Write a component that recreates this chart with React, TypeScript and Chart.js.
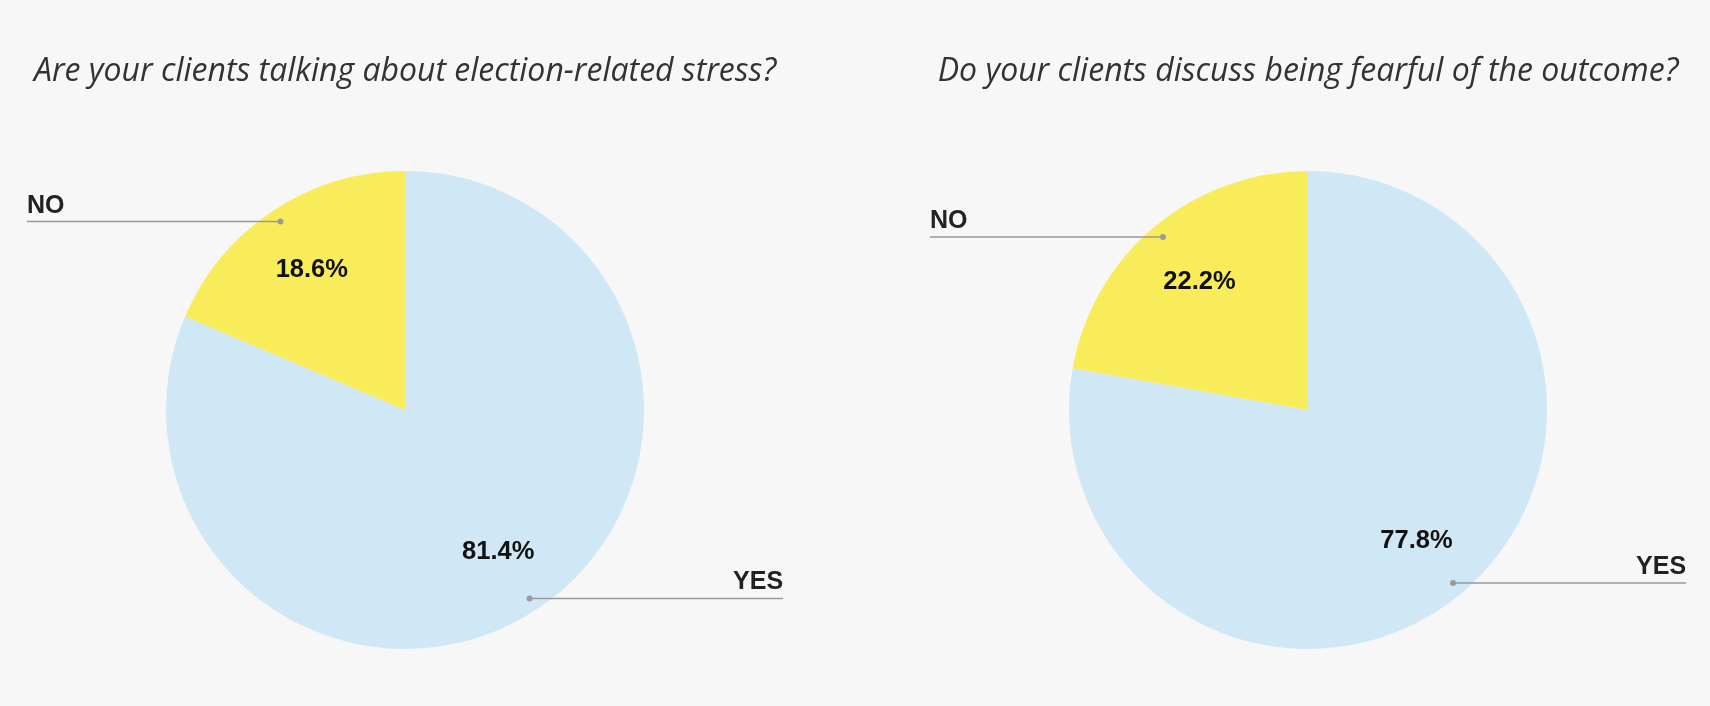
import React, { useEffect, useRef } from "react";
import { Chart, registerables } from "chart.js";

Chart.register(...registerables);

const categories = ["YES", "NO"];
const stressValues = [81.4, 18.6];
const fearValues = [77.8, 22.2];
const chartTitles = [
  "Are your clients talking about election-related stress?",
  "Do your clients discuss being fearful of the outcome?",
];
const sliceColors = ["#D0E8F5", "#F9EC5B"];

const W = 855;
const H = 706;

const labelPlugin = {
  id: "pieLabels",
  afterDatasetsDraw(chart: any) {
    const ctx = chart.ctx;
    const meta = chart.getDatasetMeta(0);
    const data = chart.data.datasets[0].data as number[];
    const total = data.reduce((a: number, b: number) => a + b, 0);
    const labels = chart.data.labels as string[];
    const title = chart.options.plugins.pieLabels?.title ?? "";
    let cxTitle = 0;
    meta.data.forEach((arc: any, i: number) => {
      const p = arc.getProps(["x", "y", "startAngle", "endAngle", "outerRadius"], true);
      cxTitle = p.x;
      const mid = (p.startAngle + p.endAngle) / 2;
      const r = p.outerRadius;
      const c = Math.cos(mid);
      const s = Math.sin(mid);
      // percentage
      ctx.save();
      ctx.font = "bold 25.5px 'Liberation Sans', Arial, sans-serif";
      ctx.fillStyle = "#111";
      ctx.textAlign = "center";
      ctx.textBaseline = "middle";
      const pct = ((data[i] / total) * 100).toFixed(1) + "%";
      ctx.fillText(pct, p.x + c * r * 0.707, p.y + s * r * 0.707 + 1);
      // leader line
      const dx = p.x + c * r * 0.945;
      const dy = p.y + s * r * 0.945;
      const endX = c >= 0 ? p.x + r * 1.582 : p.x - r * 1.582;
      ctx.strokeStyle = "#9a9a9a";
      ctx.lineWidth = 1.5;
      ctx.beginPath();
      ctx.moveTo(dx, dy);
      ctx.lineTo(endX, dy);
      ctx.stroke();
      ctx.fillStyle = "#9a9a9a";
      ctx.beginPath();
      ctx.arc(dx, dy, 3, 0, Math.PI * 2);
      ctx.fill();
      // category label
      ctx.font = "bold 25px 'Liberation Sans', Arial, sans-serif";
      ctx.fillStyle = "#222";
      ctx.textAlign = c >= 0 ? "right" : "left";
      ctx.textBaseline = "alphabetic";
      ctx.fillText(labels[i], endX, dy - 9);
      ctx.restore();
    });
    ctx.save();
    ctx.font = "italic 400 32px 'Open Sans', sans-serif";
    ctx.fillStyle = "#333";
    ctx.textAlign = "center";
    ctx.textBaseline = "middle";
    ctx.fillText(title, cxTitle, 72);
    ctx.restore();
  },
};

function PieChart(props: { values: number[]; title: string; padL: number; padR: number }) {
  const ref = useRef<HTMLCanvasElement | null>(null);
  useEffect(() => {
    if (!ref.current) return;
    const chart = new Chart(ref.current, {
      type: "pie",
      data: {
        labels: categories,
        datasets: [
          {
            data: props.values,
            backgroundColor: sliceColors,
            borderWidth: 0,
          },
        ],
      },
      options: {
        responsive: false,
        animation: false,
        layout: { padding: { top: 171, bottom: 57, left: props.padL, right: props.padR } },
        plugins: {
          legend: { display: false },
          tooltip: { enabled: false },
          pieLabels: { title: props.title },
        } as any,
      },
      plugins: [labelPlugin],
    });
    return () => chart.destroy();
  }, []);
  return <canvas ref={ref} width={W} height={H} style={{ width: W, height: H, display: "block" }} />;
}

export default function App() {
  useEffect(() => {
    document.body.style.margin = "0";
    document.body.style.background = "#f7f7f7";
  }, []);
  return (
    <div style={{ position: "absolute", left: 0, top: 0, width: 1710, height: 706, display: "flex", background: "#f7f7f7" }}>
      <PieChart values={stressValues} title={chartTitles[0]} padL={166} padR={211} />
      <PieChart values={fearValues} title={chartTitles[1]} padL={214} padR={163} />
    </div>
  );
}
